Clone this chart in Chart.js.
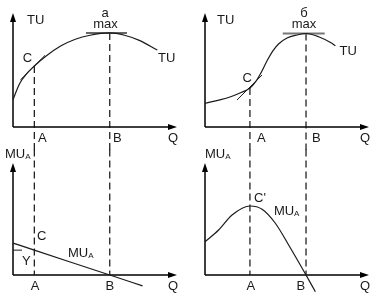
<!DOCTYPE html>
<html>
<head>
<meta charset="utf-8">
<script src="https://cdn.jsdelivr.net/npm/chart.js@4.4.1/dist/chart.umd.min.js"></script>
<style>
  html, body { margin: 0; padding: 0; background: #fff; }
  #wrap { position: relative; width: 384px; height: 307px; overflow: hidden; }
  #wrap canvas { position: absolute; }
</style>
</head>
<body>
<div id="wrap">
  <canvas id="tl" width="192" height="150" style="left:0;top:0"></canvas>
  <canvas id="tr" width="192" height="150" style="left:192px;top:0"></canvas>
  <canvas id="bl" width="192" height="167" style="left:0;top:140px"></canvas>
  <canvas id="br" width="192" height="167" style="left:192px;top:140px"></canvas>
</div>
<script>
// ---- data (Q on x, utility on y, both axes 0..10) ----
const tuLeftQ  = [0, 0.4, 0.85, 1.3, 2, 2.9, 3.8, 4.7, 5.9, 6.8, 7.7, 8.8];
const tuLeftU  = [2.4, 3.8, 4.7, 5.35, 6.2, 7.1, 7.7, 8.05, 8.25, 8.05, 7.6, 6.75];
const muLeftQ  = [0, 1.3, 5.9, 7.9];
const muLeftU  = [2.85, 2.22, 0, -0.97];
const leftAB   = [1.3, 5.9];

const tuRightQ = [0, 0.9, 1.52, 2.13, 2.74, 3.1, 3.45, 3.8, 4.15, 4.5, 5.0, 5.61, 6.16, 6.93, 7.74, 7.95];
const tuRightU = [2.08, 2.38, 2.63, 2.98, 3.42, 4.0, 4.85, 5.85, 6.7, 7.3, 7.81, 8.07, 8.2, 7.92, 7.34, 7.12];
const muRightQ = [0, 0.83, 1.65, 2.76, 3.48, 4.29, 5.1, 6.16, 6.73];
const muRightU = [2.97, 4.02, 5.36, 6.16, 5.87, 4.62, 2.68, 0, -1.49];
const rightAB  = [2.74, 6.16];

const qLabels   = ['A', 'B', 'Q'];
const maxLabels = ['а', 'б'];
const tuLabel   = 'TU';
const muLabel   = ['MU', 'A'];

const FONT = '"Liberation Sans", Arial, sans-serif';
const INK = '#1a1a1a';

const curve = (qs, us) => ({
  data: qs.map((q, i) => ({x: q, y: us[i]})),
  showLine: true, pointRadius: 0, borderColor: INK, borderWidth: 1.2,
  cubicInterpolationMode: 'monotone', capBezierPoints: false, clip: false
});
const seg = (x1, y1, x2, y2, extra) => Object.assign({
  data: [{x: x1, y: y1}, {x: x2, y: y2}],
  showLine: true, pointRadius: 0, borderColor: INK, borderWidth: 1, clip: false
}, extra);
const dash = (q, from, to) => seg(q, from, q, to, {borderDash: [7, 4], borderColor: '#111', borderWidth: 1.2});

// axes with arrows + text labels
const diagramPlugin = {
  id: 'diagram',
  beforeDatasetsDraw(chart) {
    const {ctx, scales: {x, y}} = chart;
    const x0 = x.getPixelForValue(0), y0 = y.getPixelForValue(0);
    const x1 = x.getPixelForValue(10), y1 = y.getPixelForValue(10);
    ctx.save();
    ctx.strokeStyle = '#000';
    ctx.fillStyle = '#000';
    ctx.lineWidth = 1.5;
    ctx.beginPath();
    ctx.moveTo(x0, y0); ctx.lineTo(x1 - 6, y0);
    ctx.moveTo(x0, y0); ctx.lineTo(x0, y1 + 6);
    ctx.stroke();
    ctx.beginPath();
    ctx.moveTo(x1, y0); ctx.lineTo(x1 - 9, y0 - 3); ctx.lineTo(x1 - 9, y0 + 3);
    ctx.closePath(); ctx.fill();
    ctx.beginPath();
    ctx.moveTo(x0, y1); ctx.lineTo(x0 - 3, y1 + 9); ctx.lineTo(x0 + 3, y1 + 9);
    ctx.closePath(); ctx.fill();
    ctx.restore();
  },
  afterDatasetsDraw(chart, args, opts) {
    const {ctx, scales: {x, y}} = chart;
    ctx.save();
    ctx.fillStyle = INK;
    ctx.textBaseline = 'alphabetic';
    (opts.labels || []).forEach(l => {
      let px = x.getPixelForValue(l.x);
      const py = y.getPixelForValue(l.y);
      const main = Array.isArray(l.t) ? l.t[0] : l.t;
      const sub = Array.isArray(l.t) ? l.t[1] : null;
      ctx.font = '13px ' + FONT;
      const w1 = ctx.measureText(main).width;
      ctx.font = '8px ' + FONT;
      const w2 = sub ? ctx.measureText(sub).width : 0;
      const w = w1 + w2;
      if (l.align === 'center') px -= w / 2;
      else if (l.align === 'right') px -= w;
      ctx.textAlign = 'left';
      ctx.font = '13px ' + FONT;
      ctx.fillText(main, px, py);
      if (sub) {
        ctx.font = '8px ' + FONT;
        ctx.fillText(sub, px + w1, py + 1);
      }
    });
    ctx.restore();
  }
};

function panel(id, top, bottom, datasets, labels) {
  return new Chart(document.getElementById(id), {
    type: 'scatter',
    data: {datasets},
    options: {
      responsive: false,
      animation: false,
      events: [],
      layout: {padding: {left: 13, top: top, right: 15, bottom: bottom}},
      scales: {
        x: {type: 'linear', min: 0, max: 10, display: false},
        y: {type: 'linear', min: 0, max: 10, display: false}
      },
      plugins: {legend: {display: false}, tooltip: {enabled: false}, diagram: {labels}}
    },
    plugins: [diagramPlugin]
  });
}

// top-left: TU concave
panel('tl', 13, 23, [
  curve(tuLeftQ, tuLeftU),
  seg(0.45, 4.13, 1.95, 6.28),
  seg(4.45, 8.25, 6.95, 8.25, {borderWidth: 1.5, borderColor: '#333'}),
  dash(leftAB[0], tuLeftU[3], -2.1),
  dash(leftAB[1], tuLeftU[8], -2.1)
], [
  {t: tuLabel, x: 0.85, y: 9.04},
  {t: maxLabels[0], x: 5.61, y: 9.65, align: 'center'},
  {t: 'max', x: 5.64, y: 8.68, align: 'center'},
  {t: 'C', x: 1.16, y: 5.7, align: 'right'},
  {t: tuLabel, x: 8.84, y: 5.7},
  {t: qLabels[0], x: 1.52, y: -1.32},
  {t: qLabels[1], x: 6.1, y: -1.32},
  {t: qLabels[2], x: 9.45, y: -1.32}
]);

// top-right: TU S-shaped
panel('tr', 13, 23, [
  curve(tuRightQ, tuRightU),
  seg(1.95, 2.37, 3.48, 4.56),
  seg(4.74, 8.2, 7.3, 8.2, {borderWidth: 2, borderColor: '#777'}),
  dash(rightAB[0], tuRightU[4], -2.1),
  dash(rightAB[1], tuRightU[12], -2.1)
], [
  {t: tuLabel, x: 0.73, y: 9.04},
  {t: maxLabels[1], x: 6.04, y: 9.65, align: 'center'},
  {t: 'max', x: 6.04, y: 8.68, align: 'center'},
  {t: 'C', x: 2.57, y: 3.98, align: 'center'},
  {t: tuLabel, x: 8.2, y: 6.3},
  {t: qLabels[0], x: 3.17, y: -1.32},
  {t: qLabels[1], x: 6.52, y: -1.32},
  {t: qLabels[2], x: 9.45, y: -1.32}
]);

// bottom-left: MU linear
panel('bl', 23, 32, [
  curve(muLeftQ, muLeftU),
  seg(0, muLeftU[1], 0.55, muLeftU[1]),
  dash(leftAB[0], 11.2, 0),
  dash(leftAB[1], 11.2, 0)
], [
  {t: muLabel, x: -0.49, y: 10.45},
  {t: 'C', x: 1.46, y: 3.13},
  {t: 'Y', x: 0.55, y: 0.89},
  {t: muLabel, x: 3.35, y: 1.61},
  {t: qLabels[0], x: 1.34, y: -1.34, align: 'center'},
  {t: qLabels[1], x: 5.91, y: -1.34, align: 'center'},
  {t: qLabels[2], x: 9.45, y: -1.34}
]);

// bottom-right: MU rising then falling
panel('br', 23, 32, [
  curve(muRightQ, muRightU),
  dash(rightAB[0], 11.2, 0),
  dash(rightAB[1], 11.2, 0)
], [
  {t: muLabel, x: 0, y: 10.45},
  {t: "C'", x: 2.99, y: 6.52},
  {t: muLabel, x: 4.2, y: 5.36},
  {t: qLabels[0], x: 2.8, y: -1.34, align: 'center'},
  {t: qLabels[1], x: 5.85, y: -1.34, align: 'center'},
  {t: qLabels[2], x: 9.45, y: -1.34}
]);
</script>
</body>
</html>
